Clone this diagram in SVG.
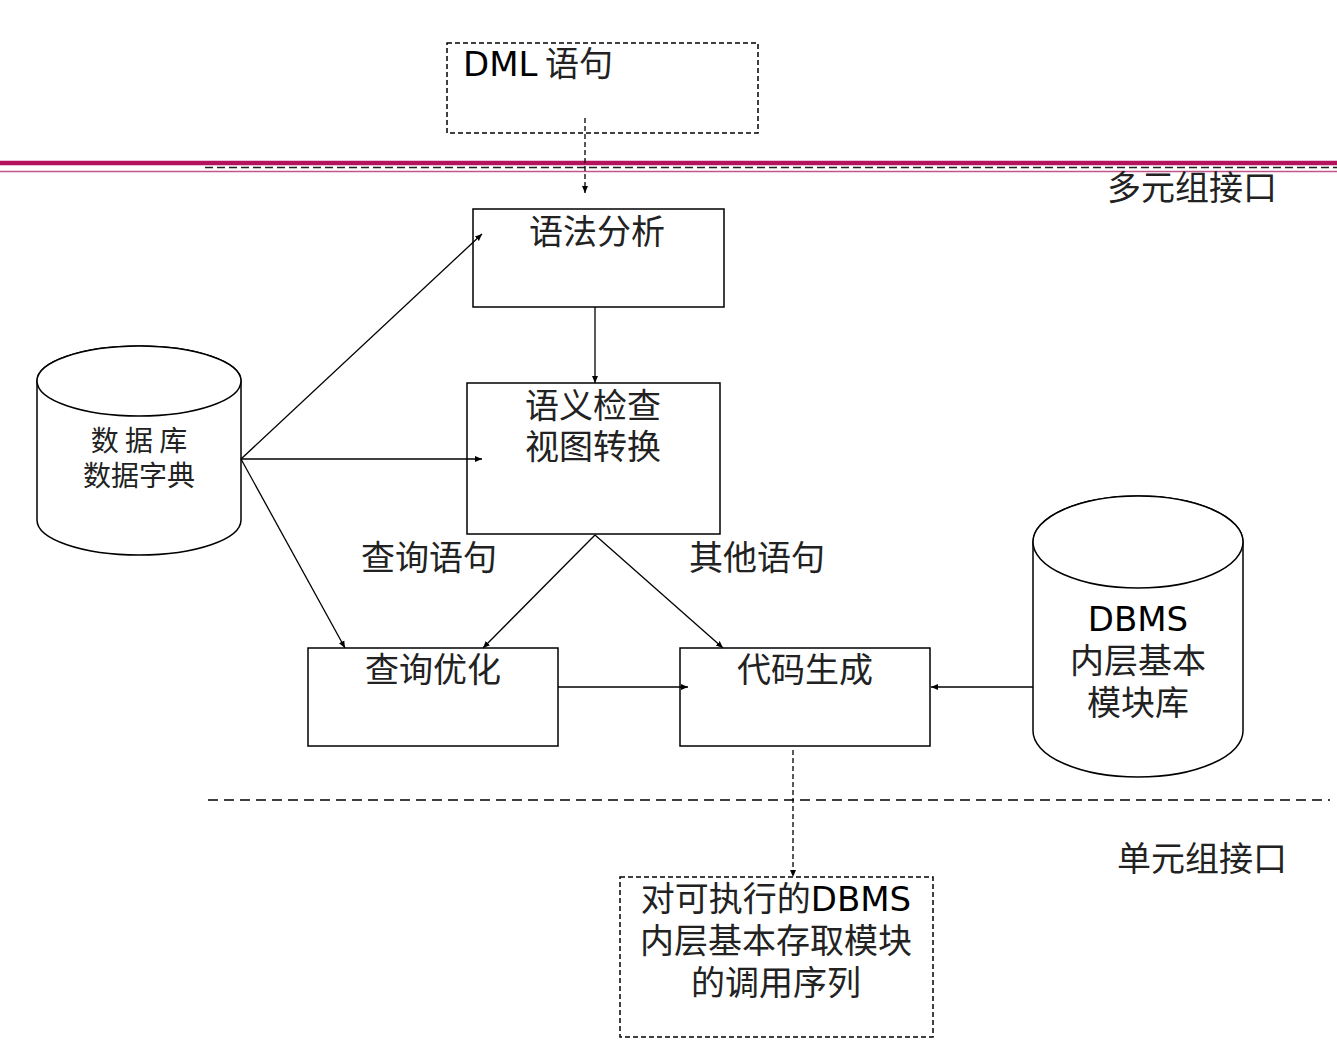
<svg xmlns="http://www.w3.org/2000/svg" width="1337" height="1046" viewBox="0 0 1337 1046">
<style>
.box{fill:#fff;stroke:#000;stroke-width:1.5}
.dbox{fill:none;stroke:#000;stroke-width:1.5;stroke-dasharray:5,3}
.ln{fill:none;stroke:#000;stroke-width:1.3}
.dl{fill:none;stroke:#000;stroke-width:1.3;stroke-dasharray:5,3}
.cy{fill:#fff;stroke:#000;stroke-width:1.5}
.t{font-family:"Noto Sans CJK SC","DejaVu Sans",sans-serif;font-size:34px;fill:#222;text-anchor:middle}
.l{font-family:"DejaVu Sans","Noto Sans CJK SC",sans-serif}
</style>
<defs>
<marker id="ah" markerWidth="8" markerHeight="8" refX="7" refY="4" orient="auto" markerUnits="userSpaceOnUse">
<path d="M0,1 L7,4 L0,7 Z" fill="#000"/>
</marker>
</defs>
<g id="separator-top">
<line x1="0" y1="163" x2="1337" y2="163" stroke="#b3125c" stroke-width="4.5"/>
<line x1="0" y1="171.5" x2="1337" y2="171.5" stroke="#c2558c" stroke-width="1.5"/>
<line x1="205" y1="167.5" x2="1337" y2="167.5" stroke="#222" stroke-width="1.5" stroke-dasharray="8,4"/>
</g>
<line id="separator-bottom" x1="208" y1="800" x2="1330" y2="800" stroke="#000" stroke-width="1.5" stroke-dasharray="10,6"/>
<g id="dml">
<rect class="dbox" x="447" y="43" width="311" height="90"/>
<text class="t" x="463" y="76" style="text-anchor:start"><tspan class="l" fill="#000">DML</tspan> 语句</text>
</g>
<g id="parse">
<rect class="box" x="473" y="209" width="251" height="98"/>
<text class="t" x="597" y="244">语法分析</text>
</g>
<g id="semantic">
<rect class="box" x="467" y="383" width="253" height="151"/>
<text class="t" x="593" y="418">语义检查<tspan x="593" dy="41">视图转换</tspan></text>
</g>
<g id="optimize">
<rect class="box" x="308" y="648" width="250" height="98"/>
<text class="t" x="433" y="682">查询优化</text>
</g>
<g id="codegen">
<rect class="box" x="680" y="648" width="250" height="98"/>
<text class="t" x="805" y="682">代码生成</text>
</g>
<g id="dict">
<path class="cy" d="M37,381 L37,520 A102,35 0 0 0 241,520 L241,381 A102,35 0 0 0 37,381 Z"/>
<ellipse class="cy" cx="139" cy="381" rx="102" ry="35"/>
<text class="t" x="139" y="451" style="font-size:28px">数 据 库<tspan x="139" dy="35">数据字典</tspan></text>
</g>
<g id="dbms">
<path class="cy" d="M1033,542 L1033,731 A105,46 0 0 0 1243,731 L1243,542 A105,46 0 0 0 1033,542 Z"/>
<ellipse class="cy" cx="1138" cy="542" rx="105" ry="46"/>
<text class="t" x="1138" y="631"><tspan class="l" fill="#000">DBMS</tspan><tspan x="1138" dy="42">内层基本</tspan><tspan x="1138" dy="42">模块库</tspan></text>
</g>
<g id="output">
<rect class="dbox" x="620" y="877" width="313" height="160"/>
<text class="t" x="776" y="911">对可执行的<tspan class="l" fill="#000">DBMS</tspan><tspan x="776" dy="42">内层基本存取模块</tspan><tspan x="776" dy="42">的调用序列</tspan></text>
</g>
<g id="labels">
<text class="t" x="429" y="570">查询语句</text>
<text class="t" x="757" y="570">其他语句</text>
<text class="t" x="1192" y="200">多元组接口</text>
<text class="t" x="1202" y="871">单元组接口</text>
</g>
<g id="connectors">
<line class="dl" x1="585" y1="118" x2="585" y2="193" marker-end="url(#ah)"/>
<line class="ln" x1="595" y1="307" x2="595" y2="383" marker-end="url(#ah)"/>
<line class="ln" x1="241" y1="459" x2="482" y2="234" marker-end="url(#ah)"/>
<line class="ln" x1="241" y1="459" x2="482" y2="459" marker-end="url(#ah)"/>
<line class="ln" x1="241" y1="459" x2="345" y2="648" marker-end="url(#ah)"/>
<line class="ln" x1="595" y1="535" x2="483" y2="648" marker-end="url(#ah)"/>
<line class="ln" x1="595" y1="535" x2="723" y2="648" marker-end="url(#ah)"/>
<line class="ln" x1="558" y1="687" x2="688" y2="687" marker-end="url(#ah)"/>
<line class="ln" x1="1033" y1="687" x2="931" y2="687" marker-end="url(#ah)"/>
<line class="dl" x1="793" y1="750" x2="793" y2="877" marker-end="url(#ah)"/>
</g>
</svg>
